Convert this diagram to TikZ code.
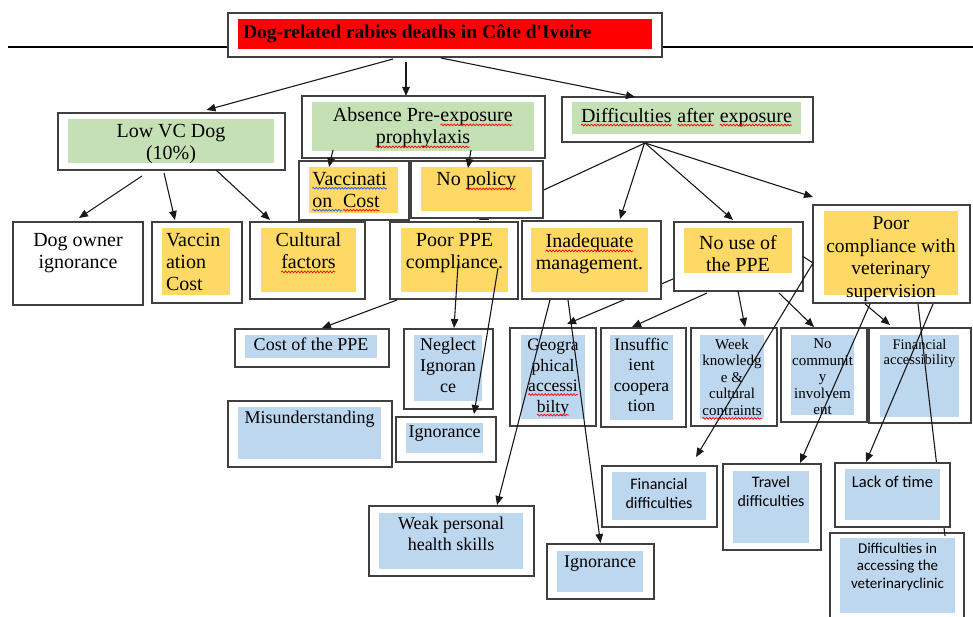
\documentclass[tikz,border=0pt]{standalone}
\usepackage{fontspec}
\setmainfont{Liberation Serif}
\newfontfamily\calibri{Carlito}
\usetikzlibrary{arrows.meta,fit,positioning,backgrounds,decorations.pathmorphing}

\definecolor{boxgray}{RGB}{64,64,64}
\definecolor{titlered}{RGB}{255,0,0}
\definecolor{causegreen}{RGB}{197,224,180}
\definecolor{causegold}{RGB}{255,217,102}
\definecolor{causeblue}{RGB}{189,215,238}
\definecolor{checkblue}{RGB}{40,90,220}

% spell-check wavy underline under one word
\newcommand\spellmark[2]{\tikz[baseline=(w.base)]{\node[anchor=base west, inner sep=0pt, outer sep=0pt, draw=none, fill=none] (w) at (0,0) {#2};
  \draw[#1, line width=0.7pt, decorate, decoration={snake, amplitude=0.9pt, segment length=3.2pt}] ([yshift=-3pt]w.base west) -- ([yshift=-3pt]w.base east);}}
\newcommand\spellred[1]{\spellmark{red}{#1}}
\newcommand\spellblue[1]{\spellmark{checkblue}{#1}}

\tikzset{
  outer/.style={draw=boxgray, line width=1.6pt, fill=white, inner sep=0pt, outer sep=0pt},
  infill/.style={fill=#1, inner sep=0pt, outer sep=0pt},
  lbl/.style={inner sep=0pt, outer sep=0pt, align=center},
  txtbig/.style={font=\fontsize{20}{22}\selectfont},
  txtmid/.style={font=\fontsize{18}{21}\selectfont},
  txtlow/.style={font=\fontsize{17.5}{20.5}\selectfont},
  txtfine/.style={font=\fontsize{15}{16.5}\selectfont},
  txttiny/.style={font=\fontsize{14.5}{15}\selectfont},
  txtsans/.style={font=\calibri\fontsize{16}{19.5}\selectfont},
  txtsanssmall/.style={font=\calibri\fontsize{15}{17.5}\selectfont},
  link/.style={draw=black!90, line width=1.1pt},
  arr/.style={link, -{Triangle[length=9pt,width=7.5pt]}},
}

\begin{document}
\begin{tikzpicture}[x=1pt,y=-1pt]
  \useasboundingbox (0,0) rectangle (973,617);
  \clip (0,0) rectangle (973,617);

  % Title and rule
  \coordinate (rulel) at (8,47);
  \coordinate (ruler) at (973,47);
  \draw[line width=1.1pt] (rulel) -- (ruler);
  \node[outer, fit={(228,13) (662,57)}] (title) {};
  \node[infill=titlered, fit={(238,19) (652,49)}] (title-in) {};
  \node[lbl, font=\bfseries\fontsize{19.5}{22}\selectfont, below right=6pt and 5pt of title-in.north west] (title-t) {Dog-related rabies deaths in Côte d\textquotesingle Ivoire};

  % Main causes
  \node[outer, fit={(58,113) (285,170)}] (lowvc) {};
  \node[infill=causegreen, fit={(68,119) (274,163)}] (lowvc-in) {};
  \node[lbl, txtbig, below=5pt of lowvc-in.north] (lowvc-t) {Low VC Dog\\(10\%)};

  \node[outer, fit={(302,96) (545,158)}] (absence) {};
  \node[infill=causegreen, fit={(312,102) (534,151)}] (absence-in) {};
  \node[lbl, txtbig, below=6pt of absence-in.north] (absence-t) {Absence Pre-\spellred{exposure}\\\spellred{prophylaxis}};

  \node[outer, fit={(562,97) (813,142)}] (afterexp) {};
  \node[infill=causegreen, fit={(572,102) (801,134)}] (afterexp-in) {};
  \node[lbl, txtbig, below=6pt of afterexp-in.north] (afterexp-t) {\spellred{Difficulties} \spellred{after} \spellred{exposure}};

  % Second level
  \node[outer, fit={(299,161) (409,220)}] (vaccost) {};
  \node[infill=causegold, fit={(309,167) (398,213)}] (vaccost-in) {};
  \node[lbl, txtbig, align=left, below right=5pt and 3pt of vaccost-in.north west] (vaccost-t) {\spellblue{Vaccinati}\\\spellblue{on\ \ }\spellred{Cost}};

  \node[outer, fit={(411,161) (543,218)}] (nopolicy) {};
  \node[infill=causegold, fit={(421,167) (532,211)}] (nopolicy-in) {};
  \node[lbl, txtbig, below=5pt of nopolicy-in.north] (nopolicy-t) {No \spellred{policy}};

  \node[outer, fit={(13,222) (143,305)}] (ownerign) {};
  \node[lbl, txtbig, below=11pt of ownerign.north] (ownerign-t) {Dog owner\\ignorance};

  \node[outer, fit={(152,222) (242,303)}] (vaccin) {};
  \node[infill=causegold, fit={(162,228) (230,295)}] (vaccin-in) {};
  \node[lbl, txtbig, align=left, below right=5pt and 4pt of vaccin-in.north west] (vaccin-t) {Vaccin\\ation\\Cost};

  \node[outer, fit={(250,222) (365,299)}] (cultural) {};
  \node[infill=causegold, fit={(261,228) (356,292)}] (cultural-in) {};
  \node[lbl, txtbig, below=5pt of cultural-in.north] (cultural-t) {Cultural\\\spellred{factors}};

  \node[outer, fit={(390,222) (518,299)}] (poorppe) {};
  \node[infill=causegold, fit={(401,228) (508,292)}] (poorppe-in) {};
  \node[lbl, txtbig, below=5pt of poorppe-in.north] (poorppe-t) {Poor PPE\\compliance.};

  \node[outer, fit={(522,221) (661,299)}] (inadequate) {};
  \node[infill=causegold, fit={(531,228) (648,292)}] (inadequate-in) {};
  \node[lbl, txtbig, below=6pt of inadequate-in.north] (inadequate-t) {\spellred{Inadequate}\\management.};

  \node[outer, fit={(674,222) (803,291)}] (nouse) {};
  \node[infill=causegold, fit={(684,228) (792,273)}] (nouse-in) {};
  \node[lbl, txtbig, below=7pt of nouse-in.north] (nouse-t) {No use of\\the PPE};

  \node[outer, fit={(813,205) (970,303)}] (poorvet) {};
  \node[infill=causegold, fit={(824,211) (958,295)}] (poorvet-in) {};
  \node[lbl, font=\fontsize{19.5}{22.5}\selectfont, below=6pt of poorvet-in.north] (poorvet-t) {Poor\\compliance with\\veterinary\\supervision};

  % Third level
  \node[outer, fit={(235,329) (389,367)}] (costppe) {};
  \node[infill=causeblue, fit={(245,335) (377,358)}] (costppe-in) {};
  \node[lbl, txtmid, below=3pt of costppe-in.north] (costppe-t) {Cost of the PPE};

  \node[outer, fit={(404,329) (493,409)}] (neglect) {};
  \node[infill=causeblue, fit={(414,335) (482,401)}] (neglect-in) {};
  \node[lbl, txtmid, below=3pt of neglect-in.north] (neglect-t) {Neglect\\Ignoran\\ce};

  \node[outer, fit={(228,401) (392,467)}] (misunder) {};
  \node[infill=causeblue, fit={(238,407) (381,459)}] (misunder-in) {};
  \node[lbl, txtmid, below=4pt of misunder-in.north] (misunder-t) {Misunderstanding};

  \node[outer, fit={(396,417) (496,462)}] (ignorppe) {};
  \node[infill=causeblue, fit={(406,423) (483,453)}] (ignorppe-in) {};
  \node[lbl, txtmid, below=3pt of ignorppe-in.north] (ignorppe-t) {Ignorance};

  \node[outer, fit={(510,328) (596,426)}] (geo) {};
  \node[infill=causeblue, fit={(521,335) (585,419)}] (geo-in) {};
  \node[lbl, txtlow, below=4pt of geo-in.north] (geo-t) {Geogra\\phical\\\spellred{accessi}\\\spellred{bilty}};

  \node[outer, fit={(601,328) (686,427)}] (insuff) {};
  \node[infill=causeblue, fit={(610,335) (673,420)}] (insuff-in) {};
  \node[lbl, txtlow, below=3pt of insuff-in.north] (insuff-t) {Insuffic\\ient\\coopera\\tion};

  \node[outer, fit={(691,328) (777,426)}] (weakknow) {};
  \node[infill=causeblue, fit={(700,335) (764,419)}] (weakknow-in) {};
  \node[lbl, txtfine, below=4pt of weakknow-in.north] (weakknow-t) {Week\\knowledg\\e \&\\cultural\\\spellred{contraints}};

  \node[outer, fit={(781,328) (867,422)}] (nocomm) {};
  \node[infill=causeblue, fit={(791,335) (854,415)}] (nocomm-in) {};
  \node[lbl, txtfine, below=4pt of nocomm-in.north] (nocomm-t) {No\\communit\\y\\involvem\\ent};

  \node[outer, fit={(869,328) (971,423)}] (finacc) {};
  \node[infill=causeblue, fit={(880,335) (959,417)}] (finacc-in) {};
  \node[lbl, txttiny, below=4pt of finacc-in.north] (finacc-t) {Financial\\accessibility};

  % Fourth level
  \node[outer, fit={(369,506) (534,576)}] (weakskills) {};
  \node[infill=causeblue, fit={(379,513) (523,569)}] (weakskills-in) {};
  \node[lbl, txtmid, below=4pt of weakskills-in.north] (weakskills-t) {Weak personal\\health skills};

  \node[outer, fit={(547,544) (654,599)}] (ignorbot) {};
  \node[infill=causeblue, fit={(557,551) (643,592)}] (ignorbot-in) {};
  \node[lbl, txtmid, below=5pt of ignorbot-in.north] (ignorbot-t) {Ignorance};

  \node[outer, fit={(602,466) (717,527)}] (findiff) {};
  \node[infill=causeblue, fit={(612,472) (706,520)}] (findiff-in) {};
  \node[lbl, txtsans, below=6pt of findiff-in.north] (findiff-t) {Financial\\difficulties};

  \node[outer, fit={(723,464) (821,550)}] (travel) {};
  \node[infill=causeblue, fit={(733,471) (809,543)}] (travel-in) {};
  \node[lbl, txtsans, below=5pt of travel-in.north] (travel-t) {Travel\\difficulties};

  \node[outer, fit={(830,533) (964,625)}] (clinic) {};
  \node[infill=causeblue, fit={(840,538) (955,613)}] (clinic-in) {};
  \node[lbl, txtsanssmall, below=5pt of clinic-in.north] (clinic-t) {Difficulties in\\accessing the\\veterinaryclinic};

  % Arrows
  \draw[arr] ([xshift=-52pt,yshift=-2pt]title.south) -- ([xshift=35pt,yshift=3pt]lowvc.north);
  \draw[arr] ([xshift=-39pt,yshift=-5pt]title.south) -- ([xshift=-17.5pt]absence.north);
  \draw[arr] ([xshift=-4pt,yshift=-1pt]title.south) -- ([xshift=-52.5pt]afterexp.north);

  \draw[arr] ([xshift=-29.5pt,yshift=-6pt]lowvc.south) -- ([xshift=1pt,yshift=4pt]ownerign.north);
  \draw[arr] ([xshift=-7.5pt,yshift=-3pt]lowvc.south) -- ([xshift=-22pt,yshift=2pt]vaccin.north);
  \draw[arr] ([xshift=44.5pt]lowvc.south) -- ([xshift=-37.5pt,yshift=2pt]cultural.north);

  \draw[arr] ([xshift=-90.5pt,yshift=8pt]absence.south) -- ([xshift=-25pt,yshift=-6pt]vaccost.north);
  \draw[arr] ([xshift=47.5pt,yshift=8pt]absence.south) -- ([xshift=-9pt,yshift=-7pt]nopolicy.north);

  \begin{scope}[on background layer]
    \draw[arr] ([xshift=-42.5pt,yshift=-1pt]afterexp.south) -- ([xshift=25pt,yshift=2pt]poorppe.north);
    \draw[arr] ([yshift=-22.5pt,xshift=-1pt]nouse.west) -- ([xshift=14pt,yshift=4pt]geo.north);
  \end{scope}
  \draw[arr] ([xshift=-43pt,yshift=-1pt]afterexp.south) -- ([xshift=28.5pt,yshift=2pt]inadequate.north);
  \draw[arr] ([xshift=-42.5pt,yshift=-1pt]afterexp.south) -- ([xshift=-5.5pt,yshift=2pt]nouse.north);
  \draw[arr] ([xshift=-42.5pt,yshift=-1pt]afterexp.south) -- ([yshift=8pt]poorvet.north west);

  \draw[arr] ([xshift=-57pt,yshift=-1pt]poorppe.south) -- ([xshift=10pt,yshift=1pt]costppe.north);
  \draw[arr] ([xshift=4pt,yshift=34pt]poorppe.south) -- ([xshift=5.5pt,yshift=1pt]neglect.north);
  \draw[arr] ([xshift=44pt,yshift=31pt]poorppe.south) -- ([xshift=28pt,yshift=3pt]ignorppe.north);

  \draw[arr] ([xshift=-41.5pt,yshift=-1pt]inadequate.south) -- ([xshift=45.5pt,yshift=1pt]weakskills.north);
  \draw[arr] ([xshift=-23.5pt,yshift=-1pt]inadequate.south) -- ([yshift=1pt]ignorbot.north);

  \draw[arr] ([xshift=-31.5pt,yshift=-2pt]nouse.south) -- ([xshift=-11.5pt,yshift=1pt]insuff.north);
  \draw[arr] ([xshift=-0.5pt]nouse.south) -- ([xshift=11pt,yshift=1pt]weakknow.north);
  \draw[arr] ([xshift=40.5pt,yshift=-2pt]nouse.south) -- ([xshift=-10pt,yshift=1pt]nocomm.north);
  \draw[arr] (nouse.east) -- ([yshift=-9pt]poorvet.west) -- ([xshift=36.5pt,yshift=9pt]findiff.north);

  \draw[arr] ([xshift=-26.5pt,yshift=-1pt]poorvet.south) -- ([xshift=-30pt,yshift=3pt]finacc.north);
  \draw[arr] ([xshift=-21.5pt,yshift=-1pt]poorvet.south) -- ([xshift=28pt,yshift=1pt]travel.north);
  \draw[link] ([xshift=26.5pt,yshift=-1pt]poorvet.south) -- ([xshift=48pt,yshift=-3pt]clinic.north);

  % Box drawn over the last line
  \node[outer, fit={(835,463) (950,527)}] (lacktime) {};
  \node[infill=causeblue, fit={(845,469) (940,520)}] (lacktime-in) {};
  \node[lbl, font=\calibri\fontsize{16.5}{19.5}\selectfont, below=7pt of lacktime-in.north] (lacktime-t) {Lack of time};
  \draw[arr] ([xshift=41.5pt,yshift=-1pt]poorvet.south) -- ([xshift=-26.5pt,yshift=1pt]lacktime.north);
\end{tikzpicture}
\end{document}
